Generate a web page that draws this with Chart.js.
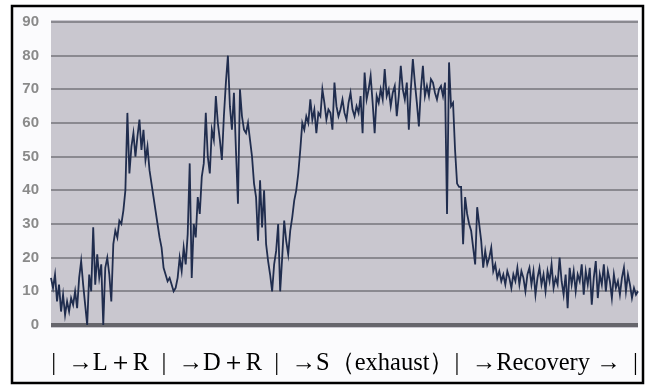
<!DOCTYPE html>
<html>
<head>
<meta charset="utf-8">
<script src="https://cdn.jsdelivr.net/npm/chart.js@4.4.0/dist/chart.umd.min.js"></script>
<style>
  html, body { margin: 0; padding: 0; background: #ffffff; }
  #wrap { width: 653px; height: 388px; position: relative; }
</style>
</head>
<body>
<div id="wrap"><canvas id="chart" width="653" height="388"></canvas></div>
<script>
// signal trace at roughly even time steps
const signal = [
  14, 11, 15, 7, 12, 4, 9, 3, 7, 4, 8, 6, 10, 5, 14, 19, 12, 6, 0, 15,
  10, 29, 12, 21, 14, 18, 0, 17, 20, 15, 7, 24, 28, 26, 31, 30, 34, 40, 63, 45,
  53, 57, 50, 56, 61, 52, 58, 49, 53, 46, 42, 38, 34, 30, 26, 23, 17, 15, 13, 14,
  12, 10, 11, 14, 20, 16, 23, 18, 27, 48, 14, 30, 26, 38, 33, 44, 48, 63, 50, 45,
  58, 55, 68, 60, 55, 49, 62, 72, 80, 65, 58, 69, 52, 36, 70, 62, 58, 57, 60, 55,
  50, 42, 38, 25, 43, 29, 40, 24, 19, 15, 10, 18, 22, 30, 10, 20, 31, 25, 21, 28,
  32, 37, 40, 45, 52, 60, 58, 62, 60, 67, 61, 64, 57, 63, 62, 70, 66, 61, 64, 63,
  58, 72, 65, 62, 64, 67, 63, 61, 66, 69, 64, 62, 65, 63, 68, 57, 75, 67, 70, 74,
  66, 57, 68, 66, 70, 67, 76, 68, 70, 65, 69, 71, 62, 68, 77, 70, 67, 72, 58, 70,
  79, 72, 66, 59, 70, 77, 68, 71, 68, 73, 72, 69, 67, 70, 71, 68, 72, 33, 78, 65,
  66, 52, 42, 41, 41, 24, 38, 33, 30, 28, 23, 18, 35, 30, 25, 17, 22, 18, 20, 23,
  16, 18, 14, 16, 13, 15, 12, 16, 14, 11, 15, 13, 17, 12, 16, 14, 10, 15, 17, 12,
  16, 9, 14, 17, 12, 15, 10, 16, 13, 18, 11, 14, 12, 20, 13, 9, 15, 5, 17, 12,
  16, 10, 15, 13, 18, 9, 16, 12, 17, 6, 14, 19, 8, 15, 12, 18, 10, 16, 13, 8,
  15, 11, 13, 9, 14, 17, 10, 15, 12, 8, 11, 9, 10
];
const timeSteps = signal.map((v, i) => i);
const yTicks = [0, 10, 20, 30, 40, 50, 60, 70, 80, 90];
const phaseCaption = '|  \u2192L\uff0bR  |  \u2192D\uff0bR  |  \u2192S\uff08exhaust\uff09|  \u2192Recovery \u2192  |';

// paper look: white sheet, black frame, grey plot panel
const paperPlugin = {
  id: 'paper',
  beforeDraw(chart) {
    const ctx = chart.ctx;
    const a = chart.chartArea;
    ctx.save();
    ctx.fillStyle = '#ffffff';
    ctx.fillRect(0, 0, chart.width, chart.height);
    ctx.fillStyle = '#fbfbfd';
    ctx.fillRect(12, 6, 631, 377);
    ctx.fillStyle = '#c9c7cf';
    ctx.fillRect(a.left, a.top - 2, a.right - a.left, a.bottom - a.top + 5);
    ctx.restore();
  },
  afterDraw(chart) {
    const ctx = chart.ctx;
    ctx.save();
    ctx.strokeStyle = '#000000';
    ctx.lineWidth = 2.5;
    ctx.strokeRect(12, 6, 631, 377);
    ctx.restore();
  }
};

const ctx = document.getElementById('chart').getContext('2d');
const chart = new Chart(ctx, {
  type: 'line',
  data: {
    labels: timeSteps,
    datasets: [{
      data: signal,
      borderColor: '#202d4e',
      borderWidth: 1.8,
      pointRadius: 0,
      tension: 0,
      fill: false
    }]
  },
  options: {
    responsive: false,
    animation: false,
    events: [],
    layout: { padding: { left: 14, right: 15, top: 22, bottom: 6 } },
    plugins: { legend: { display: false }, tooltip: { enabled: false } },
    scales: {
      x: {
        type: 'category',
        offset: false,
        afterFit(scale) { scale.height = 57; },
        grid: { display: false, drawTicks: false },
        border: { display: false },
        ticks: { display: false },
        title: {
          display: true,
          text: phaseCaption,
          color: '#000000',
          font: { family: 'Liberation Serif', size: 24.5 },
          padding: { top: 18, bottom: 4 }
        }
      },
      y: {
        min: 0,
        max: 90,
        afterBuildTicks(scale) { scale.ticks = yTicks.map(v => ({ value: v })); },
        afterFit(scale) { scale.width = 37; },
        border: { display: false },
        grid: {
          drawTicks: false,
          color: ctx => ctx.tick.value === 0 ? '#66666c' : '#8a8990',
          lineWidth: ctx => ctx.tick.value === 0 ? 4 : 2
        },
        ticks: {
          color: '#8a8a8a',
          padding: 12,
          font: { family: 'Liberation Sans', size: 15, weight: 'bold' }
        }
      }
    }
  },
  plugins: [paperPlugin]
});
</script>
</body>
</html>
